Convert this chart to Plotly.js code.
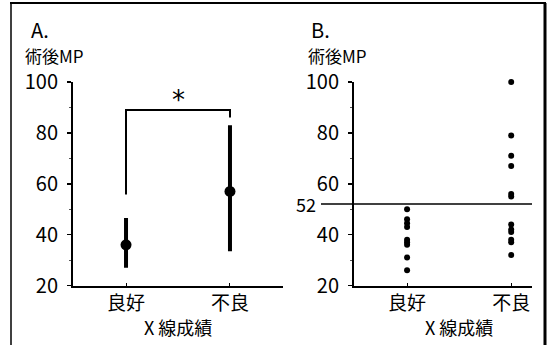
<!DOCTYPE html>
<html>
<head>
<meta charset="utf-8">
<script src="https://cdn.plot.ly/plotly-3.0.1.min.js"></script>
<style>html,body{margin:0;padding:0;background:#fff;}#chart{width:552px;height:345px;}</style>
</head>
<body>
<div id="chart"></div>
<script>
// ---- data ----
const categories = ["良好", "不良"];
const meanValues = [36, 57];
const errPlus = [10.5, 26];
const errMinus = [9, 23.5];
const bracketX = ["良好", "良好", "不良", "不良"];
const bracketY = [55.8, 89, 89, 86];
const sigLabel = "*";
const goodValues = [50, 46, 44.5, 43, 38, 37, 36, 31, 26];
const poorValues = [100, 79, 71, 67, 56, 55, 44, 42, 41, 38, 37, 32];
const cutoff = 52;
const yTicks = [20, 40, 60, 80, 100];
const yTitle = "術後MP";
const xTitle = "X 線成績";
const panelLabels = ["A.", "B."];

// ---- helpers (pixel -> paper) ----
const W = 552, H = 345;
const px = x => x / W;
const py = y => 1 - y / H;
const FONT = '"Noto Sans CJK JP", "Noto Sans", sans-serif';

const traces = [
  {
    type: 'scatter', mode: 'lines', xaxis: 'x', yaxis: 'y', cliponaxis: false,
    x: bracketX, y: bracketY,
    line: {color: '#000', width: 2}, hoverinfo: 'skip'
  },
  {
    type: 'scatter', mode: 'markers', xaxis: 'x', yaxis: 'y', cliponaxis: false,
    x: categories, y: meanValues,
    marker: {color: '#000', size: 11},
    error_y: {type: 'data', symmetric: false, array: errPlus, arrayminus: errMinus,
              color: '#000', thickness: 4, width: 0}
  },
  {
    type: 'scatter', mode: 'markers', xaxis: 'x2', yaxis: 'y2', cliponaxis: false,
    x: goodValues.map(() => categories[0]), y: goodValues,
    marker: {color: '#000', size: 6}
  },
  {
    type: 'scatter', mode: 'markers', xaxis: 'x2', yaxis: 'y2', cliponaxis: false,
    x: poorValues.map(() => categories[1]), y: poorValues,
    marker: {color: '#000', size: 6}
  }
];

const yAxisCommon = {
  range: [20, 100], tickvals: yTicks, showgrid: false, zeroline: false,
  showline: true, linecolor: '#000', linewidth: 2,
  ticks: 'outside', ticklen: 4, tickwidth: 1.5, tickcolor: '#000',
  ticklabelstandoff: 5,
  minor: {dtick: 10, ticks: 'outside', ticklen: 2, tickwidth: 1, tickcolor: '#555'},
  tickfont: {family: FONT, size: 20, color: '#000'},
  domain: [py(285.5), py(82)]
};
const xAxisCommon = {
  type: 'category', categoryarray: categories, categoryorder: 'array',
  showgrid: false, zeroline: false, showline: true, linecolor: '#000', linewidth: 2,
  ticks: 'inside', ticklen: 3, tickwidth: 1, tickcolor: '#000',
  tickfont: {family: FONT, size: 19, color: '#000'}
};

const layout = {
  width: W, height: H,
  margin: {l: 0, r: 0, t: 0, b: 0},
  paper_bgcolor: '#fff', plot_bgcolor: 'rgba(0,0,0,0)',
  showlegend: false,
  font: {family: FONT, color: '#000'},
  xaxis: Object.assign({}, xAxisCommon, {domain: [px(73), px(283)], range: [-0.51, 1.51], anchor: 'y'}),
  yaxis: Object.assign({}, yAxisCommon, {anchor: 'x'}),
  xaxis2: Object.assign({}, xAxisCommon, {domain: [px(354), px(532)], range: [-0.51, 1.2], anchor: 'y2'}),
  yaxis2: Object.assign({}, yAxisCommon, {anchor: 'x2'}),
  shapes: [
    // outer frame
    {type: 'line', xref: 'paper', yref: 'paper', x0: px(10), x1: px(546), y0: py(3), y1: py(3), line: {color: '#000', width: 2}},
    {type: 'line', xref: 'paper', yref: 'paper', x0: px(11), x1: px(11), y0: py(3), y1: py(345), line: {color: '#000', width: 1.5}},
    {type: 'line', xref: 'paper', yref: 'paper', x0: px(545), x1: px(545), y0: py(3), y1: py(345), line: {color: '#000', width: 3}},
    // cutoff line panel B
    {type: 'line', xref: 'paper', yref: 'y2', x0: px(321), x1: px(532), y0: cutoff, y1: cutoff, line: {color: '#000', width: 1.5}}
  ],
  annotations: [
    {xref: 'paper', yref: 'paper', x: px(30), y: py(29), xanchor: 'left', yanchor: 'middle', text: panelLabels[0], showarrow: false, font: {size: 20}, borderpad: 0},
    {xref: 'paper', yref: 'paper', x: px(310), y: py(29), xanchor: 'left', yanchor: 'middle', text: panelLabels[1], showarrow: false, font: {size: 20}, borderpad: 0},
    {xref: 'paper', yref: 'paper', x: px(24), y: py(55), xanchor: 'left', yanchor: 'middle', text: yTitle, showarrow: false, font: {size: 17}, borderpad: 0},
    {xref: 'paper', yref: 'paper', x: px(307), y: py(55), xanchor: 'left', yanchor: 'middle', text: yTitle, showarrow: false, font: {size: 17}, borderpad: 0},
    {xref: 'x', yref: 'paper', x: 0.5, y: py(327), xanchor: 'center', yanchor: 'middle', text: xTitle, showarrow: false, font: {size: 18}},
    {xref: 'x2', yref: 'paper', x: 0.5, y: py(327), xanchor: 'center', yanchor: 'middle', text: xTitle, showarrow: false, font: {size: 18}},
    {xref: 'x', yref: 'y', x: 0.5, y: 93, xanchor: 'center', yanchor: 'middle', text: sigLabel, showarrow: false, font: {family: 'DejaVu Sans', size: 26}},
    {xref: 'paper', yref: 'y2', x: px(318), y: cutoff, xanchor: 'right', yanchor: 'middle', text: String(cutoff), showarrow: false, font: {size: 18}}
  ]
};

Plotly.newPlot('chart', traces, layout, {staticPlot: true, displayModeBar: false});
</script>
</body>
</html>
